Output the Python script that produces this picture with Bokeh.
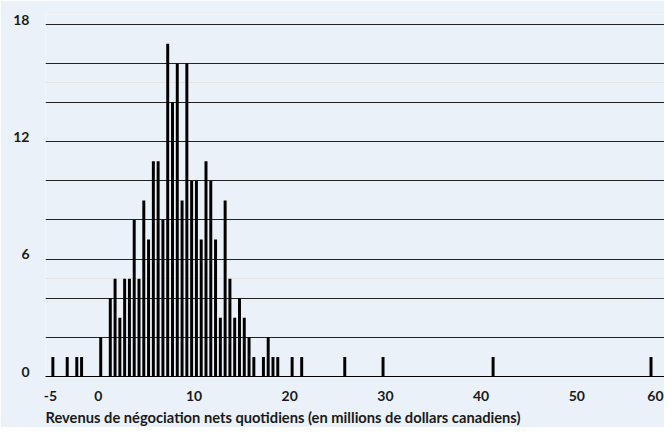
from bokeh.plotting import figure
from bokeh.models import (Range1d, LinearAxis, FixedTicker, Grid, Title,
                          ColumnDataSource)
from bokeh.embed import file_html
from bokeh.resources import INLINE

# Histogram bins (centre, millions CAD) and number of days
bin_centers = [-4.75, -3.25, -2.25, -1.75, 0.25,
               1.25, 1.75, 2.25, 2.75, 3.25, 3.75, 4.25, 4.75, 5.25, 5.75,
               6.25, 6.75, 7.25, 7.75, 8.25, 8.75, 9.25, 9.75, 10.25, 10.75,
               11.25, 11.75, 12.25, 12.75, 13.25, 13.75, 14.25, 14.75, 15.25,
               15.75, 16.25,
               17.25, 17.75, 18.25, 18.75, 20.25, 21.25, 25.75, 29.75, 41.25, 57.75]
day_counts = [1, 1, 1, 1, 2,
              4, 5, 3, 5, 5, 8, 5, 9, 7, 11,
              11, 8, 17, 14, 16, 9, 16, 10, 10, 7,
              11, 10, 7, 3, 9, 5, 3, 4, 3,
              2, 1,
              1, 2, 1, 1, 1, 1, 1, 1, 1, 1]

x_ticks = [-5, 0, 10, 20, 30, 40, 50]
x_last_tick = 60
y_label_ticks = [0, 6, 12, 18]
y_grid_ticks = [2, 4, 6, 8, 10, 12, 14, 16, 18]
x_title = "Revenus de négociation nets quotidiens (en millions de dollars canadiens)"

BG = "#eaf1f8"
TXT = "#1a1a1a"
FONT = "Lato"

X_START, X_END = -5.52, 59.16

p = figure(width=664, height=427,
           x_range=Range1d(X_START, X_END), y_range=Range1d(0, 18.5),
           output_backend="svg", toolbar_location=None,
           y_axis_location=None,
           min_border_left=45, min_border_right=0,
           min_border_top=14, min_border_bottom=49,
           background_fill_color=BG, border_fill_color=BG,
           outline_line_color=None)

p.xgrid.visible = False
grid = Grid(dimension=1, ticker=FixedTicker(ticks=y_grid_ticks),
            grid_line_color="#222222", grid_line_width=1)
p.add_layout(grid)

src = ColumnDataSource(dict(x=bin_centers, top=day_counts))
p.vbar(x="x", top="top", bottom=0, width=0.31, source=src,
       fill_color="black", line_color=None)

# the last label (60) is justified inside the plot edge, as in the original
last_pos = X_END - 0.95
tick_pos = x_ticks + [last_pos]
overrides = {t: str(t) for t in x_ticks}
overrides[last_pos] = str(x_last_tick)

xa = p.xaxis[0]
xa.ticker = FixedTicker(ticks=tick_pos)
xa.major_label_overrides = overrides
xa.axis_line_color = "black"
xa.axis_line_width = 1
xa.major_tick_line_color = None
xa.minor_tick_line_color = None
xa.major_tick_out = 0
xa.major_label_standoff = 14
xa.major_label_text_font = FONT
xa.major_label_text_font_size = "14px"
xa.major_label_text_font_style = "bold"
xa.major_label_text_color = TXT

# y labels: sit slightly above their gridlines
shift = 0.24
p.extra_y_ranges = {"lab": Range1d(-shift, 18.5 - shift)}
ya = LinearAxis(y_range_name="lab", ticker=FixedTicker(ticks=y_label_ticks),
                axis_line_color=None, major_tick_line_color=None,
                minor_tick_line_color=None, major_tick_out=0,
                major_label_standoff=16,
                major_label_text_font=FONT, major_label_text_font_size="14px",
                major_label_text_font_style="bold",
                major_label_text_color=TXT)
p.add_layout(ya, "left")

t = Title(text=x_title, align="left", text_font=FONT, text_font_size="14.7px",
          text_font_style="bold", text_color=TXT, standoff=4)
p.add_layout(t, "below")

open("out.html", "w").write(file_html(p, INLINE))
